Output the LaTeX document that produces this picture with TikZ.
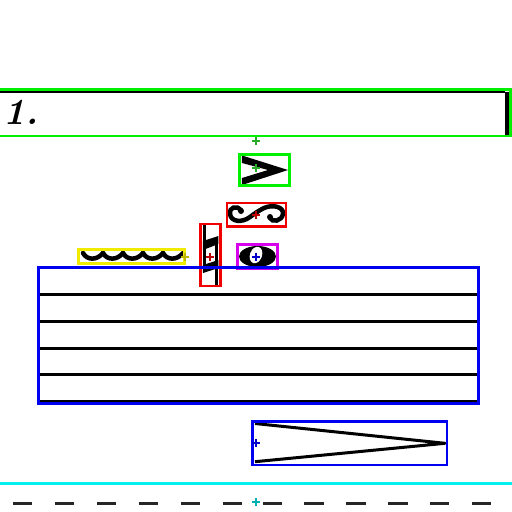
\documentclass[tikz,border=0pt]{standalone}
\usepackage{tikz}
\usetikzlibrary{arrows}
\definecolor{boxgreen}{RGB}{0,240,0}
\definecolor{boxred}{RGB}{240,0,0}
\definecolor{boxblue}{RGB}{0,0,240}
\definecolor{boxmagenta}{RGB}{215,0,235}
\definecolor{boxyellow}{RGB}{240,235,0}
\definecolor{boxcyan}{RGB}{0,240,240}
\definecolor{crossgreen}{RGB}{40,170,40}
\definecolor{crossred}{RGB}{190,0,0}
\definecolor{crossblue}{RGB}{0,0,200}
\definecolor{crossyellow}{RGB}{190,185,0}
\definecolor{crosscyan}{RGB}{0,175,175}
\tikzset{
	bound box/.style={draw,line width=0.058cm},
	origin/.style={line width=0.045cm},
	glyph/.style={fill=black}
}

\begin{document}
\begin{tikzpicture}[x=0.02cm,y=-0.02cm
				    ,staff line/.style={line width=0.06cm}
				    ,wave/.style={line width=0.09cm,line cap=round}
				    ,thin rule/.style={line width=0.035cm}
					]
	\useasboundingbox (0,0) rectangle (512,512);
	% volta bracket
	\draw[thin rule] (-2,91.7) -- (505,91.7);
	\fill[glyph] (505,91.5) rectangle (509.3,135);
	\node[anchor=base west,inner sep=0pt,font=\bfseries\itshape\fontsize{21}{21}\selectfont] (volta) at (3,124.5) {1.};
	% staff
	\foreach \y in {294.7,321.3,348,374.7,401.3}
		\draw[staff line] (38.3,\y) -- (478.3,\y);
	\draw[staff line] (225,267.3) -- (290,267.3);
	% accent
	\fill[glyph] (242,155.5) -- (288,170) -- (242,185) -- (242,178) -- (268,170) -- (242,163) -- cycle;
	% turn
	\draw[wave] (241,210) .. controls (237,205) and (229,207) .. (230,214) .. controls (231,222) and (242,223) .. (250,217) .. controls (254,214) and (258,211) .. (264,208) .. controls (273,204) and (284,207) .. (283,214) .. controls (282,221) and (272,223) .. (270,218);
	\fill[glyph] (241,211) circle (3);
	\fill[glyph] (270,217) circle (3);
	% natural
	\fill[glyph] (203,225) rectangle (206.5,272);
	\fill[glyph] (215,238) rectangle (218.5,285);
	\fill[glyph] (203,241) -- (218.5,236) -- (218.5,244) -- (203,250) -- cycle;
	\fill[glyph] (203,265) -- (218.5,260) -- (218.5,268) -- (203,273) -- cycle;
	% whole note
	\fill[glyph] (257.5,256.5) ellipse [x radius=18.5,y radius=10.5];
	\fill[white,rotate around={-20:(256,255)}] (256,255) ellipse [x radius=6,y radius=8.5];
	% trill line
	\foreach \i in {0,...,4}
		\draw[wave] (83+20*\i,253) .. controls (87+20*\i,260.5) and (97+20*\i,260.5) .. (103+20*\i,253);
	% hairpin
	\draw[line width=0.06cm,line join=round] (255,423.5) -- (445,443.3) -- (255,461.7);
	% dashed rule
	\foreach \x in {12.7,54.7,...,230,262.7,304.5,...,480}
		\draw[line width=0.06cm,black!85] (\x,503.3) -- ++(19.5,0);
	% boxes
	\draw[bound box,boxgreen] (-2,89.3) -- (510.5,89.3) -- (510.5,136) -- (-2,136);
	\draw[bound box,boxgreen] (239.7,154.3) rectangle (289.3,185.7);
	\draw[bound box,boxred] (227,203) rectangle (286,226.5);
	\draw[bound box,boxred] (200.7,224) rectangle (220.7,286);
	\draw[bound box,boxmagenta] (237.7,244.3) rectangle (277.3,268.3);
	\draw[bound box,boxyellow] (78.7,249.7) rectangle (184.3,263.3);
	\draw[bound box,boxblue] (38.3,267.3) rectangle (478.3,403.3);
	\draw[bound box,boxblue] (252.7,421.3) rectangle (447,465);
	\draw[bound box,boxcyan] (0,483.3) -- (512,483.3);
	% origins
	\foreach \x/\y/\c in {256/141/crossgreen,256/168.3/crossgreen,256/215/crossred,210.3/256.7/crossred,256/256.7/crossblue,185.3/256.7/crossyellow,256/443.3/crossblue,256/502.3/crosscyan}
		\draw[origin,\c] (\x-4,\y) -- (\x+4,\y) (\x,\y-4) -- (\x,\y+4);
\end{tikzpicture}
\end{document}
